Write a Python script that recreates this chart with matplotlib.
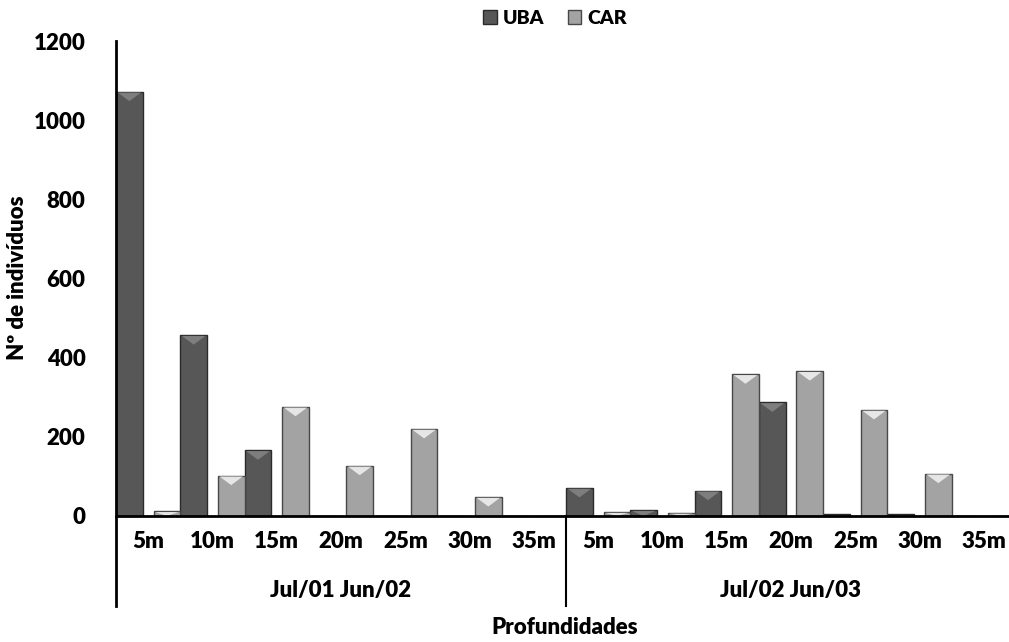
import matplotlib.pyplot as plt
from matplotlib.patches import Polygon, Patch
from matplotlib.lines import Line2D
import numpy as np

# Counts per depth for the two sampling periods
depths = ['5m', '10m', '15m', '20m', '25m', '30m', '35m']
periods = ['Jul/01 Jun/02', 'Jul/02 Jun/03']
uba = [1072, 457, 166, 0, 0, 0, 0,
       71, 15, 64, 287, 4, 4, 0]
car = [12, 102, 276, 127, 220, 48, 0,
       10, 8, 358, 366, 268, 107, 0]

plt.rcParams['font.family'] = ['Lato', 'DejaVu Sans']
plt.rcParams['font.weight'] = 'heavy'

fig = plt.figure(figsize=(10.09, 6.42), dpi=100)
ax = fig.add_axes([116 / 1009, 126 / 642, 900 / 1009, 475 / 642])

n = len(uba)
x = np.arange(n)
w = 0.4167
off = 0.2917
uba_color = '#575757'
car_color = '#a3a3a3'

bars_u = ax.bar(x - off, uba, w, color=uba_color, edgecolor='#2a2a2a', linewidth=1)
bars_c = ax.bar(x + off, car, w, color=car_color, edgecolor='#484848', linewidth=1)

# bevel highlight at the top of each bar
for bars, hl in [(bars_u, '#858585'), (bars_c, '#f2f2f2')]:
    for b in bars:
        h = b.get_height()
        if h <= 0:
            continue
        x0 = b.get_x()
        bw = b.get_width()
        d = min(24, h)
        tri = Polygon([[x0 + bw * 0.06, h - 2], [x0 + bw * 0.94, h - 2], [x0 + bw / 2, h - d]],
                      closed=True, facecolor=hl, edgecolor='none', alpha=0.85)
        ax.add_patch(tri)

ax.set_xlim(-0.5, n - 0.5)
ax.set_ylim(0, 1200)
ax.set_yticks(range(0, 1201, 200))
ax.tick_params(axis='y', length=0, pad=22, labelsize=16)
ax.set_xticks(x)
ax.set_xticklabels(depths * 2, fontsize=16)
ax.tick_params(axis='x', length=0, pad=11)

for s in ['top', 'right']:
    ax.spines[s].set_visible(False)
ax.spines['left'].set_visible(False)
ax.spines['bottom'].set_linewidth(2)

# axis line extended down past the labels, plus the period separator
ax.add_line(Line2D([-0.5, -0.5], [-0.19, 1.0], color='black', lw=2,
                   transform=ax.get_xaxis_transform(), clip_on=False))
ax.add_line(Line2D([6.5, 6.5], [-0.19, 0], color='black', lw=1.5,
                   transform=ax.get_xaxis_transform(), clip_on=False))

for i, p in enumerate(periods):
    ax.text(3 + 7 * i, -0.157, p, transform=ax.get_xaxis_transform(),
            ha='center', va='center', fontsize=16)

fig.text(565 / 1009, 1 - 628 / 642, 'Profundidades', ha='center', va='center', fontsize=16)
fig.text(18 / 1009, 1 - 278 / 642, 'Nº de indivíduos', ha='center', va='center',
         rotation=90, fontsize=16)

handles = [Patch(facecolor=uba_color, edgecolor='#2a2a2a'),
           Patch(facecolor=car_color, edgecolor='#484848')]
fig.legend(handles, ['UBA', 'CAR'], loc='center', bbox_to_anchor=(555 / 1009, 1 - 18 / 642),
           ncol=2, frameon=False, fontsize=14, handlelength=0.7, handleheight=0.7,
           handletextpad=0.3, columnspacing=1.2)

fig.savefig('out.png', dpi=100)
